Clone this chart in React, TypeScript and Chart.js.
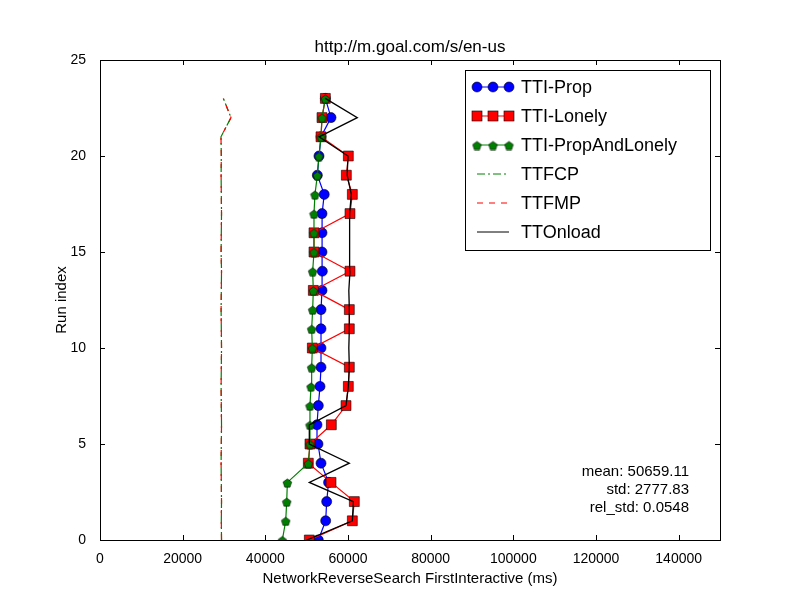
import { useEffect, useRef } from 'react';
import { Chart, registerables, type Plugin } from 'chart.js';

Chart.register(...registerables);

const runIndex = [0, 1, 2, 3, 4, 5, 6, 7, 8, 9, 10, 11, 12, 13, 14, 15, 16, 17, 18, 19, 20, 21, 22, 23];
const ttiProp = [52820, 54600, 54840, 55300, 53470, 52740, 52500, 52820, 53230, 53470, 53470, 53470, 53470, 53710, 53790, 53710, 53710, 53710, 54250, 52580, 52980, 53470, 55890, 54520];
const ttiLonely = [50640, 61050, 61530, 55890, 50400, 50800, 55970, 59520, 60080, 60320, 51370, 60320, 60320, 51610, 60480, 51770, 51770, 60480, 61050, 59600, 60080, 53470, 53710, 54520];
const ttiPropAndLonely = [44110, 44930, 45170, 45330, 50400, 50800, 50800, 50800, 51050, 51210, 51370, 51210, 51450, 51610, 51450, 51770, 51770, 51770, 52010, 52580, 52980, 53470, 53710, 54520];
const ttfcp = [29400, 29350, 29400, 29350, 29300, 29350, 29400, 29350, 29300, 29350, 29400, 29350, 29300, 29350, 29400, 29300, 29350, 29400, 29350, 29300, 29350, 29270, 31690, 29840];
const ttfmp = [29400, 29350, 29400, 29350, 29300, 29350, 29400, 29350, 29300, 29350, 29400, 29350, 29300, 29350, 29400, 29300, 29350, 29400, 29350, 29300, 29350, 29270, 31690, 29840];
const ttOnload = [50000, 61050, 61300, 50640, 60320, 50640, 50640, 59520, 60080, 60320, 60200, 60320, 60320, 60200, 60480, 60300, 60400, 60480, 60800, 59800, 60000, 53000, 62250, 54500];
const xTicks = [0, 20000, 40000, 60000, 80000, 100000, 120000, 140000];
const yTicks = [0, 5, 10, 15, 20, 25];
const statLines = ['mean: 50659.11', 'std: 2777.83', 'rel_std: 0.0548'];
const titleText = 'http://m.goal.com/s/en-us';
const xLabel = 'NetworkReverseSearch FirstInteractive (ms)';
const yLabel = 'Run index';

const FONT = '"Liberation Sans", Arial, sans-serif';

function pentagon(size: number): HTMLCanvasElement {
  const c = document.createElement('canvas');
  c.width = size;
  c.height = size;
  const g = c.getContext('2d')!;
  const r = size / 2 - 1;
  g.beginPath();
  for (let i = 0; i < 5; i++) {
    const a = -Math.PI / 2 + (i * 2 * Math.PI) / 5;
    const px = size / 2 + r * Math.cos(a);
    const py = size / 2 + 1 + r * Math.sin(a);
    if (i === 0) g.moveTo(px, py);
    else g.lineTo(px, py);
  }
  g.closePath();
  g.fillStyle = '#008000';
  g.fill();
  g.strokeStyle = '#000';
  g.lineWidth = 0.6;
  g.stroke();
  return c;
}

const pts = (xs: number[]) => xs.map((x, i) => ({ x, y: runIndex[i] }));

const decor: Plugin = {
  id: 'decor',
  afterDraw(chart) {
    const { ctx, chartArea: a, scales } = chart;
    const xs = scales.x;
    const ys = scales.y;
    ctx.save();
    ctx.strokeStyle = '#000';
    ctx.lineWidth = 1;
    // inward ticks
    ctx.beginPath();
    xTicks.forEach((v) => {
      const p = Math.round(xs.getPixelForValue(v)) + 0.5;
      ctx.moveTo(p, a.bottom); ctx.lineTo(p, a.bottom - 5);
      ctx.moveTo(p, a.top); ctx.lineTo(p, a.top + 5);
    });
    yTicks.forEach((v) => {
      const p = Math.round(ys.getPixelForValue(v)) + 0.5;
      ctx.moveTo(a.left, p); ctx.lineTo(a.left + 5, p);
      ctx.moveTo(a.right, p); ctx.lineTo(a.right - 5, p);
    });
    ctx.stroke();
    ctx.strokeRect(a.left + 0.5, a.top + 0.5, a.right - a.left, a.bottom - a.top);

    ctx.fillStyle = '#000';
    ctx.font = `17px ${FONT}`;
    ctx.textAlign = 'center';
    ctx.textBaseline = 'alphabetic';
    ctx.fillText(titleText, (a.left + a.right) / 2, 52);
    ctx.font = `15px ${FONT}`;
    ctx.fillText(xLabel, (a.left + a.right) / 2, 583);
    ctx.save();
    ctx.translate(66, (a.top + a.bottom) / 2);
    ctx.rotate(-Math.PI / 2);
    ctx.fillText(yLabel, 0, 0);
    ctx.restore();

    ctx.textAlign = 'right';
    ctx.font = `15px ${FONT}`;
    statLines.forEach((s, i) => ctx.fillText(s, 689, 476 + i * 18));

    // legend
    const lx = 465, ly = 70, lw = 245, lh = 180;
    ctx.fillStyle = '#fff';
    ctx.fillRect(lx, ly, lw, lh);
    ctx.strokeRect(lx + 0.5, ly + 0.5, lw, lh);
    const rowH = 29;
    const y0 = ly + 17;
    const x1 = lx + 12, x2 = lx + 44;
    chart.data.datasets.forEach((ds: any, i) => {
      const y = y0 + i * rowH;
      ctx.save();
      ctx.strokeStyle = ds.borderColor;
      ctx.lineWidth = 1;
      ctx.setLineDash(ds.borderDash || []);
      ctx.beginPath();
      ctx.moveTo(x1, y); ctx.lineTo(x2, y);
      ctx.stroke();
      ctx.setLineDash([]);
      if (ds.pointRadius > 0) {
        [x1, (x1 + x2) / 2, x2].forEach((mx) => {
          if (ds.pointStyle === 'circle') {
            ctx.beginPath();
            ctx.arc(mx, y, 5, 0, Math.PI * 2);
            ctx.fillStyle = ds.pointBackgroundColor;
            ctx.fill();
            ctx.strokeStyle = '#000';
            ctx.lineWidth = 0.6;
            ctx.stroke();
          } else if (ds.pointStyle === 'rect') {
            ctx.fillStyle = ds.pointBackgroundColor;
            ctx.fillRect(mx - 5, y - 5, 10, 10);
            ctx.strokeStyle = '#000';
            ctx.lineWidth = 0.6;
            ctx.strokeRect(mx - 5, y - 5, 10, 10);
          } else {
            const c = ds.pointStyle as HTMLCanvasElement;
            ctx.drawImage(c, mx - c.width / 2, y - c.height / 2);
          }
        });
      }
      ctx.restore();
      ctx.fillStyle = '#000';
      ctx.textAlign = 'left';
      ctx.textBaseline = 'middle';
      ctx.font = `18px ${FONT}`;
      ctx.fillText(ds.label, lx + 56, y + 1);
    });
    ctx.restore();
  },
};

export default function App() {
  const chartRef = useRef<HTMLCanvasElement>(null);
  const chartInstance = useRef<Chart | null>(null);

  useEffect(() => {
    if (!chartRef.current) return;
    if (chartInstance.current) chartInstance.current.destroy();
    const ctx = chartRef.current.getContext('2d');
    if (!ctx) return;

    const pent = pentagon(11);
    const marker = { pointBorderColor: '#000', pointBorderWidth: 0.6, borderWidth: 1.2 };

    chartInstance.current = new Chart(ctx, {
      type: 'line',
      data: {
        datasets: [
          { label: 'TTI-Prop', data: pts(ttiProp), borderColor: '#0000ff', pointBackgroundColor: '#0000ff', pointStyle: 'circle', pointRadius: 5, order: 5, ...marker },
          { label: 'TTI-Lonely', data: pts(ttiLonely), borderColor: '#ff0000', pointBackgroundColor: '#ff0000', pointStyle: 'rect', pointRadius: 7, order: 4, ...marker },
          { label: 'TTI-PropAndLonely', data: pts(ttiPropAndLonely), borderColor: '#008000', pointBackgroundColor: '#008000', pointStyle: pent as any, pointRadius: 5, order: 3, ...marker },
          { label: 'TTFCP', data: pts(ttfcp), borderColor: '#008000', borderDash: [8, 3, 2, 3], pointRadius: 0, borderWidth: 1.2, order: 2 },
          { label: 'TTFMP', data: pts(ttfmp), borderColor: '#ff0000', borderDash: [6, 6], pointRadius: 0, borderWidth: 1.2, order: 1 },
          { label: 'TTOnload', data: pts(ttOnload), borderColor: '#000000', pointRadius: 0, borderWidth: 1.3, order: 0 },
        ] as any,
      },
      options: {
        animation: false,
        responsive: false,
        layout: { padding: { left: 0, right: 80, top: 60, bottom: 0 } },
        plugins: { legend: { display: false }, tooltip: { enabled: false } },
        scales: {
          x: {
            type: 'linear', min: 0, max: 150000,
            afterBuildTicks: (s) => { s.ticks = xTicks.map((value) => ({ value })); },
            afterFit: (s) => { s.height = 60; },
            grid: { display: false },
            border: { display: false },
            ticks: { color: '#000', font: { family: FONT, size: 14 }, padding: 3, maxRotation: 0, callback: (v) => String(v) },
          },
          y: {
            type: 'linear', min: 0, max: 25,
            afterBuildTicks: (s) => { s.ticks = yTicks.map((value) => ({ value })); },
            afterFit: (s) => { s.width = 100; },
            grid: { display: false },
            border: { display: false },
            ticks: { color: '#000', font: { family: FONT, size: 14 }, padding: 6 },
          },
        },
      },
      plugins: [decor],
    });

    return () => {
      if (chartInstance.current) chartInstance.current.destroy();
    };
  }, []);

  return (
    <div style={{ position: 'absolute', left: 0, top: 0, width: 800, height: 600, background: '#fff' }}>
      <canvas ref={chartRef} width={800} height={600} />
    </div>
  );
}
